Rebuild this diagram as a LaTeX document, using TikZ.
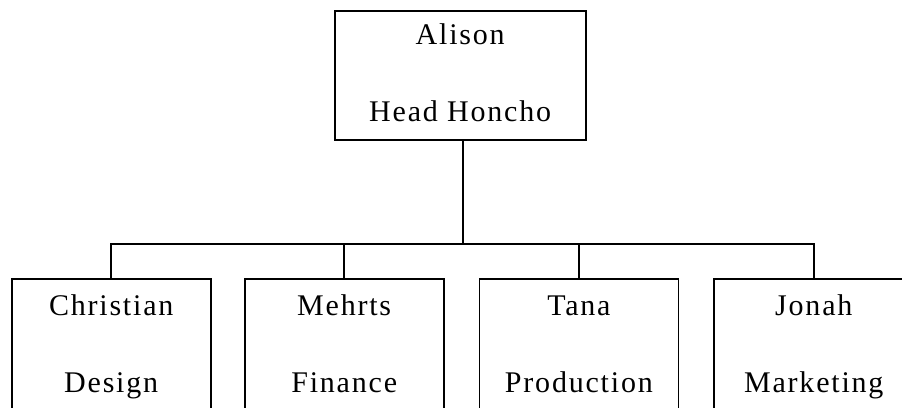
\documentclass[tikz,border=0pt]{standalone}
\usepackage{fontspec}
\setmainfont{Liberation Serif}[LetterSpace=6]
\newcommand{\twoline}[2]{\rule{0pt}{22pt}#1\\#2\rule[-7pt]{0pt}{7pt}}
\begin{document}
\begin{tikzpicture}[x=1pt,y=-1pt,
  box/.style={draw, line width=1.8pt, minimum width=199pt, minimum height=134.6pt,
    inner sep=0pt, align=center, font=\fontsize{30}{77}\selectfont},
  link/.style={line width=1.8pt}]
\useasboundingbox (0,0) rectangle (902,407);
\clip (0,0) rectangle (902,407);
\node[box, minimum width=251pt, minimum height=129pt] (top) at (460.2,75.5) {\twoline{Alison}{Head Honcho}};
\node[box] (c1) at (111.2,346) {\twoline{Christian}{Design}};
\node[box] (c2) at (344.2,346) {\twoline{Mehrts}{Finance}};
\node[box] (c3) at (578.9,346) {\twoline{Tana}{Production}};
\node[box] (c4) at (813.8,346) {\twoline{Jonah}{Marketing}};
\coordinate (bus) at (463.3,244.3);
\draw[link] (top.south -| bus) -- (bus);
\draw[link] (bus) -| (c1.north);
\draw[link] (bus) -| (c2.north);
\draw[link] (bus) -| (c3.north);
\draw[link] (bus) -| (c4.north);
\end{tikzpicture}
\end{document}
